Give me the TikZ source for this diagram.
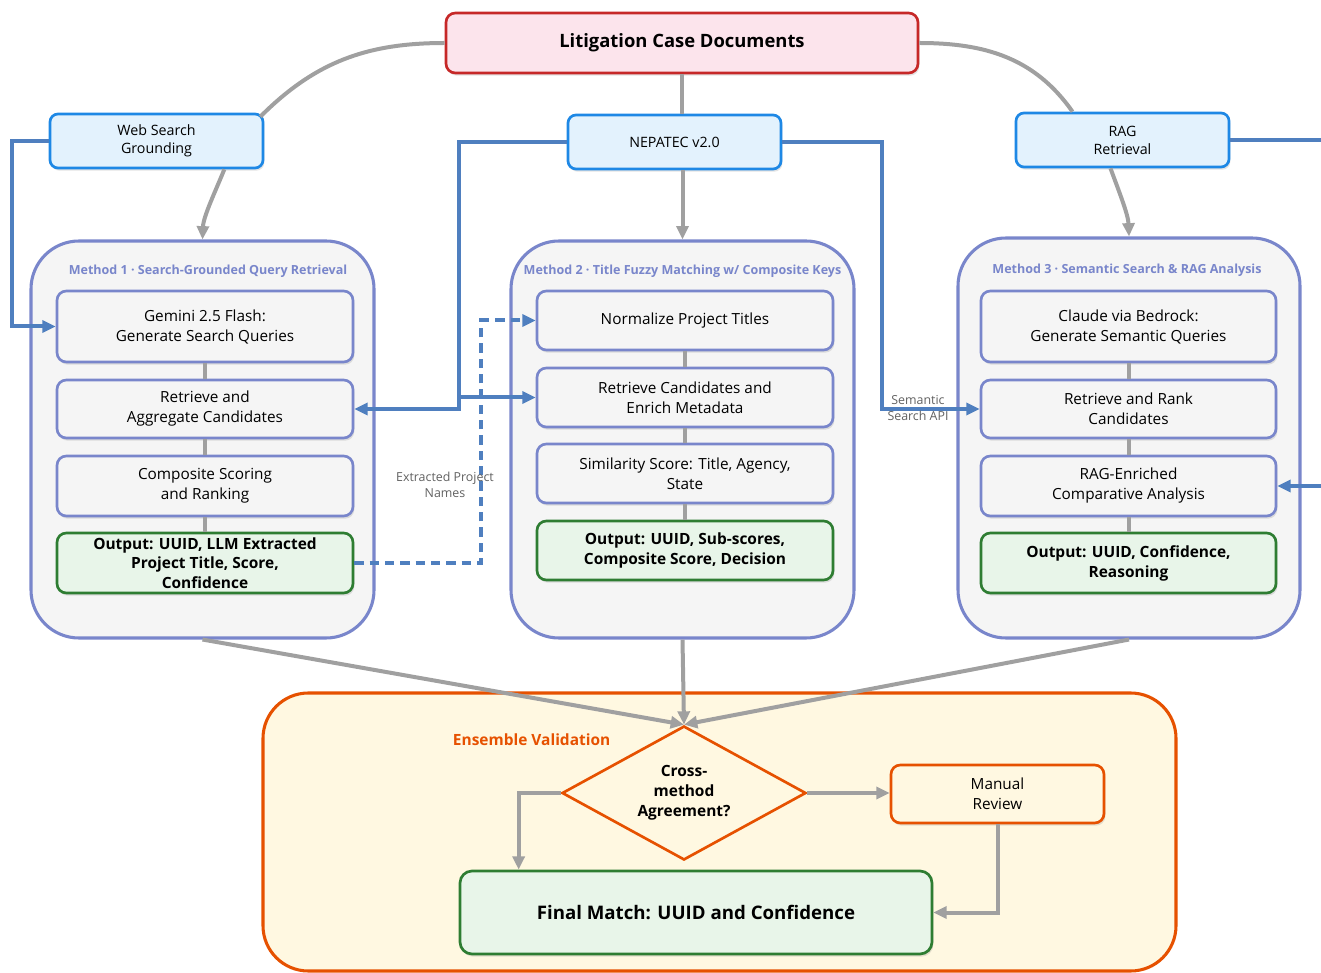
\documentclass[tikz,border=0pt]{standalone}
\usepackage{fontspec}
\setmainfont{Open Sans}
\usepackage{xcolor}
\usepackage{tikz}
\usetikzlibrary{arrows.meta,positioning,shapes.geometric,shadows}
\definecolor{CaseRed}{HTML}{C62828}
\definecolor{CasePink}{HTML}{FCE4EC}
\definecolor{SrcBlue}{HTML}{1E88E5}
\definecolor{SrcFill}{HTML}{E3F2FD}
\definecolor{MethodLine}{HTML}{7986CB}
\definecolor{MethodFill}{HTML}{F5F5F5}
\definecolor{OutGreen}{HTML}{2E7D32}
\definecolor{OutFill}{HTML}{E8F5E9}
\definecolor{EnsOrange}{HTML}{E65100}
\definecolor{EnsFill}{HTML}{FFF8E1}
\definecolor{LinkGray}{HTML}{A0A0A0}
\definecolor{LinkBlue}{HTML}{4F7FBF}
\definecolor{NoteGray}{HTML}{616161}

\begin{document}
\begin{tikzpicture}[
    x=0.75pt, y=-0.75pt,
    every node/.style={align=center, inner sep=2pt, font=\fontsize{11.5}{15}\selectfont},
    softshadow/.style={drop shadow={shadow xshift=1pt, shadow yshift=-2pt, opacity=0.22}},
    casebox/.style={rectangle, draw=CaseRed, fill=CasePink, rounded corners=7pt, line width=2pt, minimum width=354pt, minimum height=45pt, font=\fontsize{13.8}{16}\selectfont\bfseries, softshadow},
    srcbox/.style={rectangle, draw=SrcBlue, fill=SrcFill, rounded corners=6pt, line width=2pt, minimum width=159.75pt, minimum height=40.5pt, font=\fontsize{10.7}{13.5}\selectfont, softshadow},
    methodbox/.style={rectangle, draw=MethodLine, fill=MethodFill, rounded corners=36pt, line width=2.3pt, minimum width=257.25pt, minimum height=297.75pt},
    methodtitle/.style={text=MethodLine, font=\fontsize{9.4}{11}\selectfont\bfseries},
    stepbox/.style={rectangle, draw=MethodLine, fill=MethodFill, rounded corners=7pt, line width=2pt, minimum width=222pt, softshadow},
    outbox/.style={stepbox, draw=OutGreen, fill=OutFill, font=\fontsize{11.6}{15}\selectfont\bfseries},
    ensbox/.style={rectangle, draw=EnsOrange, fill=EnsFill, rounded corners=34pt, line width=2.3pt, minimum width=684.75pt, minimum height=208.5pt},
    decision/.style={diamond, draw=EnsOrange, fill=EnsFill, line width=2pt, aspect=1.82, minimum width=183pt, minimum height=100.5pt, inner sep=0pt, font=\fontsize{11.6}{15}\selectfont\bfseries},
    reviewbox/.style={rectangle, draw=EnsOrange, fill=EnsFill, rounded corners=7pt, line width=2pt, minimum width=159.75pt, minimum height=43.5pt, softshadow},
    finalbox/.style={rectangle, draw=OutGreen, fill=OutFill, rounded corners=9pt, line width=2pt, minimum width=354pt, minimum height=62.25pt, font=\fontsize{14}{17}\selectfont\bfseries, softshadow},
    note/.style={text=NoteGray, font=\fontsize{9.3}{12}\selectfont},
    link/.style={draw=LinkGray, line width=3pt},
    flow/.style={link, -{Triangle[length=10pt,width=9pt]}},
    feed/.style={draw=LinkBlue, line width=3pt, -{Triangle[length=10pt,width=9pt]}}
]
\useasboundingbox (0,0) rectangle (1321,973);
\clip (0,0) rectangle (1321,973);

% Top Layer: Case documents and sources
\node[casebox] (lit) at (682,43) {Litigation Case Documents};
\node[srcbox] (web) at (156.5,141) {Web Search\\Grounding};
\node[srcbox] (nep) at (674.5,142) {NEPATEC v2.0};
\node[srcbox] (rag) at (1122.5,140) {RAG\\Retrieval};

% Method containers
\node[methodbox] (m1) at (202.5,439.5) {};
\node[methodbox] (m2) at (682.5,439.5) {};
\node[methodbox, minimum width=256.5pt, minimum height=300pt] (m3) at (1129,438) {};
\node[methodtitle] (t1) at (208,271) {Method 1 · Search-Grounded Query Retrieval};
\node[methodtitle] (t2) at (682.5,271) {Method 2 · Title Fuzzy Matching w/ Composite Keys};
\node[methodtitle] (t3) at (1127,270) {Method 3 · Semantic Search \& RAG Analysis};

% Method 1 steps
\node[stepbox, minimum height=53.25pt] (gem1) at (205,326.5) {Gemini 2.5 Flash:\\Generate Search Queries};
\node[stepbox, minimum height=43.5pt, below=11.5pt of gem1] (agg1) {Retrieve and\\Aggregate Candidates};
\node[stepbox, minimum height=45pt, below=11.5pt of agg1] (comp1) {Composite Scoring\\and Ranking};
\node[outbox, minimum height=45pt, inner ysep=0pt, font=\fontsize{11.6}{14.5}\selectfont\bfseries, below=10.75pt of comp1] (out1) {Output: UUID, LLM Extracted\\Project Title, Score,\\Confidence};

% Method 2 steps
\node[stepbox, minimum height=44.25pt] (norm2) at (685,320.5) {Normalize Project Titles};
\node[stepbox, minimum height=44.25pt, below=11.5pt of norm2] (ret2) {Retrieve Candidates and\\Enrich Metadata};
\node[stepbox, minimum height=44.25pt, below=10.75pt of ret2] (sim2) {Similarity Score: Title, Agency,\\State};
\node[outbox, minimum height=44.25pt, below=11.5pt of sim2] (out2) {Output: UUID, Sub-scores,\\Composite Score, Decision};

% Method 3 steps
\node[stepbox, minimum height=53.25pt, minimum width=221.25pt] (gen3) at (1128.5,326.5) {Claude via Bedrock:\\Generate Semantic Queries};
\node[stepbox, minimum height=43.5pt, minimum width=221.25pt, below=11.5pt of gen3] (rank3) {Retrieve and Rank\\Candidates};
\node[stepbox, minimum height=45pt, minimum width=221.25pt, below=11.5pt of rank3] (enr3) {RAG-Enriched\\Comparative Analysis};
\node[outbox, minimum height=45pt, minimum width=221.25pt, below=10.75pt of enr3] (out3) {Output: UUID, Confidence,\\Reasoning};

% Bottom Layer: Ensemble
\node[ensbox] (ens) at (719.5,832) {};
\node[anchor=west, text=EnsOrange, font=\fontsize{11.6}{13}\selectfont\bfseries] (enslabel) at (450,740) {Ensemble Validation};
\node[decision] (agree) at (684,793) {Cross-\\method\\Agreement?};
\node[reviewbox] (review) at (997.5,794) {Manual\\Review};
\node[finalbox] (final) at (696,912.5) {Final Match: UUID and Confidence};

% Step chains
\foreach \a/\b in {gem1/agg1, agg1/comp1, comp1/out1, norm2/ret2, ret2/sim2, sim2/out2, gen3/rank3, rank3/enr3, enr3/out3}
  \draw[link] (\a) -- (\b);

% Sources into methods
\draw[link] (lit.west) to[out=180, in=45] ([xshift=-3pt, yshift=-3pt]web.north east);
\draw[flow] ([xshift=-30pt]web.south east) to[out=-112, in=88, looseness=0.8] (m1.north);
\draw[link] (lit.south) -- (lit.south |- nep.north);
\draw[flow] (nep.south -| m2.north) -- (m2.north);
\draw[link] (lit.east) to[out=0, in=125] ([xshift=-37.5pt]rag.north);
\draw[flow] ([xshift=-9pt]rag.south) to[out=-70, in=92, looseness=0.8] (m3.north);

% Data feeds
\draw[feed] (web.west) -- ++(-37,0) |- (gem1.west);
\draw[feed] (nep.west) -- ++(-108,0) |- (agg1.east);
\draw[feed] (nep.west) -- ++(-108,0) |- (ret2.west);
\draw[feed] (nep.east) -- ++(100,0) |- (rank3.west);
\draw[feed] (rag.east) -- ++(130,0) |- (enr3.east);
\draw[feed, dash pattern=on 7pt off 4.5pt] (out1.east) -- ++(127,0) |- (norm2.west);
\node[note] (extnote) at (445,485) {Extracted Project\\Names};
\node[note] (apinote) at (918,408) {Semantic\\Search API};

% Ensemble flow
\draw[flow] (m1.south) -- (agree.north);
\draw[flow] (m2.south) -- (agree.north);
\draw[flow] (m3.south) -- (agree.north);
\draw[flow] (agree.west) -| ([xshift=45pt]final.north west);
\draw[flow] (agree.east) -- (agree.east -| review.west);
\draw[flow] (review.south) |- (final.east);

\end{tikzpicture}
\end{document}
